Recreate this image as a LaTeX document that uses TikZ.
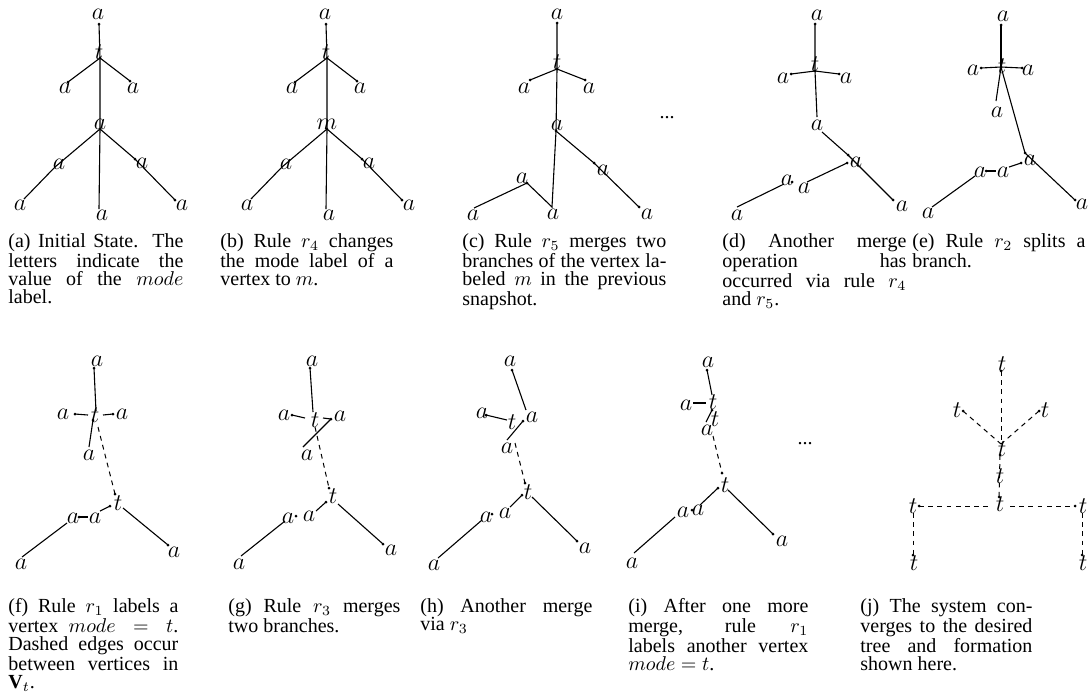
\documentclass[tikz,border=0pt]{standalone}
\usepackage{fontspec}
\setmainfont{Liberation Serif}
\lineskiplimit=-6pt
\tikzset{
 lab/.style={inner sep=0pt, font=\fontsize{12}{14}\selectfont},
 ed/.style={line width=0.55pt},
 ded/.style={line width=0.5pt, dash pattern=on 2.4pt off 2.2pt},
 capbox/.style={anchor=north west, inner sep=0pt, align=justify, font=\fontsize{10}{9}\selectfont},
 ell/.style={inner sep=0pt, font=\fontsize{10}{10}\selectfont},
}
\newcommand\vd[1]{\fill (#1) circle[radius=1.5];}
\newcommand\treeAB[2]{%
 \coordinate (#1a1) at (99,24);  \node[lab] (#1a1l) at (98,14) {$a$};
 \coordinate (#1t) at (100,58);  \node[lab] (#1tl) at (99,52) {$t$};
 \coordinate (#1al) at (68,82);  \node[lab] (#1all) at (65,88) {$a$};
 \coordinate (#1ar) at (130,81); \node[lab] (#1arl) at (133,88) {$a$};
 \coordinate (#1am) at (100,129);\node[lab] (#1aml) at (100,124) {$#2$};
 \coordinate (#1b1) at (55,167); \node[lab] (#1b1l) at (59,164) {$a$};
 \coordinate (#1b2) at (24,199); \node[lab] (#1b2l) at (20,205) {$a$};
 \coordinate (#1b3) at (99,209); \node[lab] (#1b3l) at (102,215) {$a$};
 \coordinate (#1b4) at (135,159);\node[lab] (#1b4l) at (142,163) {$a$};
 \coordinate (#1b5) at (175,200);\node[lab] (#1b5l) at (182,205) {$a$};
 \draw[ed] (#1a1) -- (#1t) -- (#1am) -- (#1b3);
 \draw[ed] (#1t) -- (#1al); \draw[ed] (#1t) -- (#1ar);
 \draw[ed] (#1am) -- (#1b1) -- (#1b2);
 \draw[ed] (#1am) -- (#1b4) -- (#1b5);
 \vd{#1a1}\vd{#1t}\vd{#1al}\vd{#1ar}\vd{#1am}\vd{#1b4}\vd{#1b5}
}
\begin{document}
\begin{tikzpicture}[x=0.5pt,y=-0.5pt]
\useasboundingbox (0,0) rectangle (1090,698);
% (a) and (b)
\begin{scope}\treeAB{A}{a}\end{scope}
\begin{scope}[shift={(227,0)}]\treeAB{B}{m}\end{scope}
% (c)
\coordinate (ctop) at (557,23); \node[lab] (ctopl) at (557,14) {$a$};
\coordinate (ct) at (557,69);   \node[lab] (ctl) at (557,62) {$t$};
\coordinate (cal) at (530,80);  \node[lab] (call) at (524,88) {$a$};
\coordinate (car) at (585,80);  \node[lab] (carl) at (589,88) {$a$};
\coordinate (cam) at (556,131); \node[lab] (caml) at (557,125) {$a$};
\coordinate (cx) at (594,163);  \node[lab] (cxl) at (603,170) {$a$};
\coordinate (cx2) at (639,207); \node[lab] (cx2l) at (647,214) {$a$};
\coordinate (cmb) at (552,207); \node[lab] (cmbl) at (553,214) {$a$};
\coordinate (cll) at (527,183); \node[lab] (clll) at (522,178) {$a$};
\coordinate (cbl) at (474,208); \node[lab] (cbll) at (473,215) {$a$};
\draw[ed] (ctop) -- (ct) -- (cam) -- (cmb) -- (cll) -- (cbl);
\draw[ed] (ct) -- (cal); \draw[ed] (ct) -- (car);
\draw[ed] (cam) -- (cx) -- (cx2);
\vd{ctop}\vd{ct}\vd{cal}\vd{car}\vd{cam}\vd{cx}\vd{cx2}\vd{cll}
\node[ell] (cdots) at (667,118) {...};
% (d)
\coordinate (dtop) at (815,24); \node[lab] (dtopl) at (817,15) {$a$};
\coordinate (dt) at (815,71);   \node[lab] (dtl) at (815,64) {$t$};
\coordinate (dal) at (791,74);  \node[lab] (dall) at (783,78) {$a$};
\coordinate (dar) at (839,74);  \node[lab] (darl) at (846,78) {$a$};
\coordinate (dam) at (817,117); \node[lab] (daml) at (817,125) {$a$};
\coordinate (dam2) at (822,132);
\coordinate (dx) at (848,155);  \node[lab] (dxl) at (856,162) {$a$};
\coordinate (dxb) at (847,163);
\coordinate (dx2) at (893,200); \node[lab] (dx2l) at (902,206) {$a$};
\coordinate (dy) at (807,182);  \node[lab] (dyl) at (804,188) {$a$};
\coordinate (dz) at (792,182);  \node[lab] (dzl) at (787,180) {$a$};
\coordinate (dz2) at (784,184);
\coordinate (dbl) at (737,207); \node[lab] (dbll) at (737,215) {$a$};
\draw[ed] (dtop) -- (dt) -- (dam);
\draw[ed] (dt) -- (dal); \draw[ed] (dt) -- (dar);
\draw[ed] (dam2) -- (dx) -- (dx2);
\draw[ed] (dxb) -- (dy);
\draw[ed] (dz2) -- (dbl);
\vd{dtop}\vd{dt}\vd{dal}\vd{dar}\vd{dx}\vd{dxb}\vd{dx2}\vd{dz}
% (e)
\coordinate (etop) at (1001,25); \node[lab] (etopl) at (1003,16) {$a$};
\coordinate (et) at (1001,67);   \node[lab] (etl) at (1002,66) {$t$};
\coordinate (eal) at (981,68);   \node[lab] (eall) at (973,70) {$a$};
\coordinate (ear) at (1022,68);  \node[lab] (earl) at (1028,70) {$a$};
\coordinate (ead) at (996,101);  \node[lab] (eadl) at (997,112) {$a$};
\coordinate (ex) at (1025,153);  \node[lab] (exl) at (1030,160) {$a$};
\coordinate (exb) at (1021,163);
\coordinate (ex2) at (1075,200); \node[lab] (ex2l) at (1082,204) {$a$};
\coordinate (ey) at (1009,167);  \node[lab] (eyl) at (1003,172) {$a$};
\coordinate (eyw) at (996,171);
\coordinate (ez) at (986,171);   \node[lab] (ezl) at (980,172) {$a$};
\coordinate (ez2) at (975,176);
\coordinate (ebl) at (932,207);  \node[lab] (ebll) at (928,213) {$a$};
\draw[ed] (etop) -- (et);
\draw[ed] (et) -- (eal); \draw[ed] (et) -- (ear); \draw[ed] (et) -- (ead);
\draw[ed] (et) -- (ex) -- (ex2);
\draw[ed] (ey) -- (exb);
\draw[ed] (ez) -- (eyw);
\draw[ed] (ez2) -- (ebl);
\vd{etop}\vd{et}\vd{eal}\vd{ear}\vd{ex}\vd{exb}\vd{ex2}\vd{ez}
% (f)
\coordinate (ftop) at (94,368); \node[lab] (ftopl) at (97,361) {$a$};
\coordinate (ft) at (96,411);   \node[lab] (ftl) at (95,415) {$t$};
\coordinate (ftl2) at (88,415); \coordinate (ftr2) at (103,415);
\coordinate (ftd) at (93,420);  \coordinate (ftd2) at (98,427);
\coordinate (fal) at (75,414);  \node[lab] (fall) at (63,414) {$a$};
\coordinate (far) at (113,414); \node[lab] (farl) at (122,414) {$a$};
\coordinate (fad) at (89,447);  \node[lab] (fadl) at (89,455) {$a$};
\coordinate (ft2) at (115,494); \node[lab] (ft2l) at (118,503) {$t$};
\coordinate (ft2b) at (110,506);\coordinate (ft2r) at (123,508);
\coordinate (fy) at (100,511);  \node[lab] (fyl) at (95,518) {$a$};
\coordinate (fyw) at (88,517);
\coordinate (fz) at (79,517);   \node[lab] (fzl) at (73,518) {$a$};
\coordinate (fz2) at (67,523);
\coordinate (fbl) at (22,557);  \node[lab] (fbll) at (21,564) {$a$};
\coordinate (fr) at (168,545);  \node[lab] (frl) at (174,552) {$a$};
\draw[ed] (ftop) -- (ft); \draw[ed] (ftl2) -- (fal); \draw[ed] (ftr2) -- (far);
\draw[ed] (ftd) -- (fad); \draw[ded] (ftd2) -- (ft2);
\draw[ed] (fy) -- (ft2b); \draw[ed] (fz) -- (fyw); \draw[ed] (fz2) -- (fbl);
\draw[ed] (ft2r) -- (fr);
\vd{ftop}\vd{ftd}\vd{fal}\vd{far}\vd{ft2}\vd{ft2b}\vd{fz}\vd{fr}
% (g)
\coordinate (gtop) at (310,368); \node[lab] (gtopl) at (312,361) {$a$};
\coordinate (gt) at (313,412);   \node[lab] (gtl) at (315,420) {$t$};
\coordinate (gtl2) at (305,418); \coordinate (gtr2) at (323,418);
\coordinate (gtd) at (315,427);
\coordinate (gal) at (292,415);  \node[lab] (gall) at (284,415) {$a$};
\coordinate (gar) at (331,419);  \node[lab] (garl) at (340,416) {$a$};
\coordinate (gad) at (303,447);  \node[lab] (gadl) at (307,455) {$a$};
\coordinate (gt2) at (329,488);  \node[lab] (gt2l) at (333,496) {$t$};
\coordinate (gt2b) at (326,502); \coordinate (gt2r) at (338,504);
\coordinate (gy) at (316,511);   \node[lab] (gyl) at (309,516) {$a$};
\coordinate (gz) at (296,516);   \node[lab] (gzl) at (288,518) {$a$};
\coordinate (gz2) at (285,521);
\coordinate (gbl) at (241,556);  \node[lab] (gbll) at (239,564) {$a$};
\coordinate (gr) at (383,544);   \node[lab] (grl) at (391,550) {$a$};
\draw[ed] (gtop) -- (gt); \draw[ed] (gtl2) -- (gal); \draw[ed] (gtr2) -- (gar);
\draw[ed] (gar) -- (gad); \draw[ded] (gtd) -- (gt2);
\draw[ed] (gy) -- (gt2b); \draw[ed] (gz2) -- (gbl); \draw[ed] (gt2r) -- (gr);
\vd{gtop}\vd{gal}\vd{gar}\vd{gt2}\vd{gt2b}\vd{gz}\vd{gr}
% (h)
\coordinate (htop) at (512,370); \node[lab] (htopl) at (510,361) {$a$};
\coordinate (hart) at (526,410);
\coordinate (har) at (523,421);  \node[lab] (harl) at (532,417) {$a$};
\node[lab] (htl) at (512,422) {$t$};
\coordinate (htw) at (507,420);
\coordinate (hal) at (486,415);  \node[lab] (hall) at (482,413) {$a$};
\coordinate (had) at (507,440);  \node[lab] (hadl) at (507,448) {$a$};
\coordinate (htd) at (515,443);
\coordinate (ht2) at (525,483);  \node[lab] (ht2l) at (528,492) {$t$};
\coordinate (ht2b) at (522,495); \coordinate (ht2r) at (532,497);
\coordinate (hy) at (510,507);   \node[lab] (hyl) at (505,513) {$a$};
\coordinate (hz) at (492,514);   \node[lab] (hzl) at (486,517) {$a$};
\coordinate (hz2) at (482,520);
\coordinate (hbl) at (438,558);  \node[lab] (hbll) at (434,565) {$a$};
\coordinate (hr) at (577,541);   \node[lab] (hrl) at (585,548) {$a$};
\draw[ed] (htop) -- (hart); \draw[ed] (hal) -- (htw); \draw[ed] (har) -- (had);
\draw[ded] (htd) -- (ht2);
\draw[ed] (hy) -- (ht2b); \draw[ed] (hz2) -- (hbl); \draw[ed] (ht2r) -- (hr);
\vd{htop}\vd{hal}\vd{har}\vd{ht2}\vd{ht2b}\vd{hz}\vd{hr}
% (i)
\coordinate (itop) at (707,370); \node[lab] (itopl) at (708,362) {$a$};
\coordinate (it) at (712,395);   \node[lab] (itl) at (713,402) {$t$};
\coordinate (itw) at (706,403);
\coordinate (ial) at (693,403);  \node[lab] (iall) at (686,405) {$a$};
\coordinate (itd) at (712,410);
\node[lab] (it3l) at (715,419) {$t$};
\coordinate (iad) at (706,422);  \node[lab] (iadl) at (707,430) {$a$};
\coordinate (idd) at (713,436);
\coordinate (it2) at (722,473);  \node[lab] (it2l) at (725,485) {$t$};
\coordinate (it2b) at (718,488); \coordinate (it2r) at (728,490);
\coordinate (iy) at (700,505);   \node[lab] (iyl) at (698,510) {$a$};
\coordinate (iz) at (692,510);   \node[lab] (izl) at (683,512) {$a$};
\coordinate (iz2) at (675,517);
\coordinate (ibl) at (634,553);  \node[lab] (ibll) at (632,563) {$a$};
\coordinate (ir) at (773,534);   \node[lab] (irl) at (782,541) {$a$};
\draw[ed] (itop) -- (it); \draw[ed] (ial) -- (itw); \draw[ed] (iad) -- (itd);
\draw[ded] (idd) -- (it2);
\draw[ed] (iy) -- (it2b); \draw[ed] (iz2) -- (ibl); \draw[ed] (it2r) -- (ir);
\vd{itop}\vd{itd}\vd{it2}\vd{it2b}\vd{iz}\vd{ir}
\node[ell] (idots) at (805,444) {...};
% (j)
\coordinate (jtop) at (1001,371); \node[lab] (jtopl) at (1002,364) {$t$};
\coordinate (jc) at (1001,444);   \node[lab] (jcl) at (1002,449) {$t$};
\coordinate (jcd) at (1000,455);
\coordinate (jtl) at (963,411);   \node[lab] (jtll) at (957,410) {$t$};
\coordinate (jtr) at (1039,411);  \node[lab] (jtrl) at (1045,410) {$t$};
\node[lab] (jml) at (1000,476) {$t$};
\coordinate (jb) at (999,497);    \node[lab] (jbl) at (1000,504) {$t$};
\coordinate (jbw) at (990,506);   \coordinate (jbe) at (1010,506);
\coordinate (jll) at (919,506);   \node[lab] (jlll) at (913,506) {$t$};
\coordinate (jlls) at (913,513);
\coordinate (jrr) at (1075,506);  \node[lab] (jrrl) at (1083,506) {$t$};
\coordinate (jrrs) at (1082,513);
\coordinate (jlb) at (913,555);   \node[lab] (jlbl) at (914,563) {$t$};
\coordinate (jrb) at (1082,555);  \node[lab] (jrbl) at (1083,563) {$t$};
\draw[ded] (jtop) -- (jc); \draw[ded] (jtl) -- (jc); \draw[ded] (jtr) -- (jc);
\draw[ded] (jcd) -- (jb);
\draw[ded] (jll) -- (jbw); \draw[ded] (jbe) -- (jrr);
\draw[ded] (jlls) -- (jlb); \draw[ded] (jrrs) -- (jrb);
\vd{jtop}\vd{jcd}\vd{jtl}\vd{jtr}\vd{jb}\vd{jll}\vd{jrr}\vd{jlb}\vd{jrb}
% captions
\node[capbox, text width=87.5pt] (capa) at (8,233) {(a) Initial State. The\linebreak letters indicate the\linebreak value of the $mode$\linebreak label.};
\node[capbox, text width=86.5pt] (capb) at (220,233) {(b) Rule $r_4$ changes\linebreak the mode label of a\linebreak vertex to $m$.};
\node[capbox, text width=102pt] (capc) at (462,233) {(c) Rule $r_5$ merges two\linebreak branches of the vertex la-\linebreak beled $m$ in the previous\linebreak snapshot.};
\node[capbox, text width=92pt] (capd) at (722,233) {(d) Another merge\linebreak operation has\linebreak occurred via rule $r_4$\linebreak and $r_5$.};
\node[capbox, text width=86.5pt] (cape) at (912,233) {(e) Rule $r_2$ splits a\linebreak branch.};
\node[capbox, text width=85pt] (capf) at (8,598) {(f) Rule $r_1$ labels a\linebreak vertex $mode=t$.\linebreak Dashed edges occur\linebreak between vertices in\linebreak $\mathbf{V}_t$.};
\node[capbox, text width=86pt] (capg) at (228,598) {(g) Rule $r_3$ merges\linebreak two branches.};
\node[capbox, text width=86pt] (caph) at (420,598) {(h) Another merge\linebreak via $r_3$};
\node[capbox, text width=90pt] (capi) at (628,598) {(i) After one more\linebreak merge, rule $r_1$\linebreak labels another vertex\linebreak $mode=t$.};
\node[capbox, text width=86pt] (capj) at (860,598) {(j) The system con-\linebreak verges to the desired\linebreak tree and formation\linebreak shown here.};
\end{tikzpicture}
\end{document}
